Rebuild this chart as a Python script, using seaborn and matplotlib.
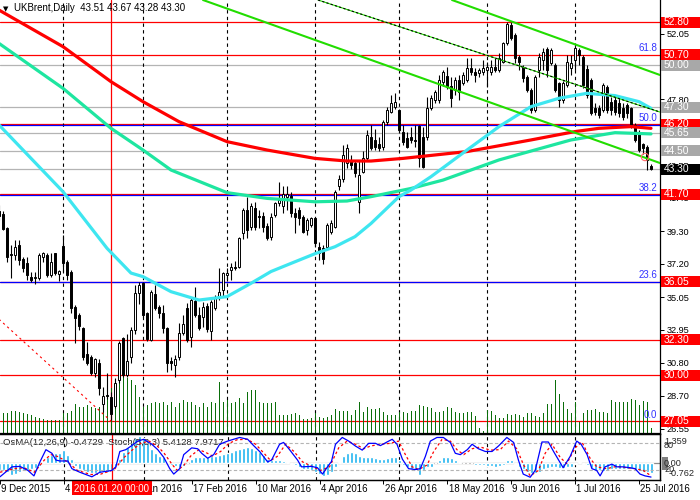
import numpy as np
import pandas as pd
import matplotlib
matplotlib.use("Agg")
import matplotlib.pyplot as plt
import seaborn as sns
from matplotlib.patches import Rectangle
from matplotlib.transforms import blended_transform_factory

# ---------------- data ----------------
opens = [40.60, 40.42, 39.49, 37.85, 37.77, 38.42, 37.49, 37.23, 36.37, 36.30,
         36.31, 37.66, 37.77, 36.48, 37.88, 36.55, 38.35, 37.34, 36.70, 34.44,
         33.90, 33.04, 31.38, 31.21, 30.14, 30.78, 28.16, 28.74, 28.60, 28.00,
         29.70, 32.40, 30.00, 31.20, 32.93, 35.29, 35.94, 34.05, 32.28, 35.25,
         34.39, 34.00, 33.04, 30.90, 30.67, 31.16, 32.71, 34.33, 32.50, 34.80,
         33.90, 33.79, 34.48, 32.88, 34.33, 34.97, 35.50, 36.50, 36.80, 37.00,
         37.00, 39.20, 40.67, 39.60, 40.78, 40.30, 40.30, 39.66, 38.95, 40.35,
         41.10, 40.90, 41.50, 41.57, 40.50, 40.66, 40.24, 39.38, 39.70, 40.13,
         38.30, 38.20, 38.30, 39.27, 39.60, 42.20, 42.70, 43.70, 43.90, 43.70,
         41.20, 43.14, 44.00, 45.40, 45.20, 44.90, 44.76, 46.37, 47.00, 47.30,
         47.12, 45.70, 45.30, 45.40, 45.20, 46.09, 45.40, 45.40, 47.23, 47.77,
         47.77, 48.95, 49.30, 48.70, 48.41, 49.06, 48.84, 49.06, 49.81, 49.60,
         49.50, 49.60, 49.70, 49.60, 49.90, 49.70, 50.24, 51.42, 52.60, 51.96,
         50.56, 49.92, 49.27, 48.41, 47.12, 49.70, 50.35, 51.04, 50.13, 50.02,
         48.84, 47.77, 48.73, 49.81, 50.35, 50.99, 50.56, 49.80, 49.06, 47.23,
         47.23, 47.12, 48.58, 47.66, 47.77, 47.55, 47.23, 47.45, 47.23, 46.15,
         45.70, 44.90, 44.76, 43.51]
highs = [41.00, 40.60, 39.55, 38.40, 38.74, 38.74, 37.66, 37.66, 36.70, 36.70,
         37.88, 37.99, 37.88, 37.88, 37.90, 36.80, 39.06, 37.45, 36.80, 34.55,
         34.00, 33.15, 32.18, 31.30, 31.10, 31.04, 29.28, 30.14, 28.90, 29.80,
         32.20, 32.50, 32.70, 33.10, 35.80, 36.00, 36.05, 34.10, 35.50, 35.83,
         34.54, 34.54, 33.14, 31.20, 31.30, 33.36, 33.90, 34.65, 34.97, 35.70,
         34.43, 34.76, 34.65, 34.86, 35.18, 36.90, 36.70, 36.90, 37.25, 37.40,
         38.95, 40.80, 41.53, 41.10, 41.20, 40.66, 40.56, 39.80, 40.45, 41.20,
         42.50, 42.20, 42.20, 41.85, 40.78, 40.88, 40.35, 40.13, 40.24, 40.24,
         38.63, 38.40, 39.80, 40.00, 41.96, 42.90, 44.86, 44.90, 44.20, 43.90,
         43.80, 44.50, 45.83, 46.15, 45.90, 45.40, 46.50, 47.33, 48.09, 48.20,
         47.20, 46.15, 45.70, 46.05, 46.15, 46.15, 46.05, 47.98, 48.09, 48.40,
         49.38, 49.70, 49.90, 49.27, 49.23, 49.38, 49.60, 50.45, 50.45, 49.81,
         49.81, 50.35, 50.24, 50.35, 50.45, 50.78, 51.53, 52.82, 52.82, 52.07,
         50.67, 50.02, 49.38, 48.52, 49.38, 50.78, 51.10, 51.20, 51.10, 50.13,
         48.95, 49.00, 50.67, 50.67, 51.25, 51.10, 50.67, 50.00, 49.16, 47.55,
         47.45, 48.84, 48.73, 47.98, 47.98, 47.88, 47.55, 47.55, 47.34, 46.26,
         45.83, 45.00, 44.87, 43.67]
lows = [40.00, 39.35, 37.34, 36.30, 37.45, 37.13, 36.70, 36.16, 36.05, 35.90,
        36.16, 37.34, 36.37, 36.33, 36.48, 36.10, 36.70, 36.16, 34.00, 32.07,
        32.93, 31.00, 30.67, 30.00, 29.90, 28.74, 27.66, 28.50, 27.10, 27.90,
        29.50, 29.90, 29.90, 30.80, 32.70, 34.60, 33.79, 32.24, 32.20, 34.20,
        33.68, 32.71, 30.24, 30.35, 29.90, 30.99, 32.60, 32.17, 31.85, 33.79,
        32.93, 33.14, 32.82, 32.28, 34.20, 34.86, 35.10, 36.10, 36.15, 36.80,
        36.90, 38.80, 38.84, 39.40, 39.40, 39.50, 39.27, 38.73, 38.73, 40.20,
        40.90, 40.45, 40.70, 40.24, 39.16, 39.70, 39.16, 39.06, 39.60, 38.30,
        37.44, 37.20, 38.20, 39.10, 39.50, 41.96, 42.50, 43.40, 43.30, 42.80,
        40.45, 43.03, 43.90, 44.54, 44.54, 44.50, 44.54, 46.15, 46.90, 47.20,
        45.70, 44.87, 44.65, 44.97, 44.76, 43.47, 43.36, 45.20, 47.12, 47.55,
        47.55, 48.70, 48.50, 47.34, 48.09, 47.77, 48.73, 48.95, 49.38, 48.95,
        49.27, 49.38, 48.63, 49.38, 49.60, 49.60, 50.13, 51.31, 51.64, 50.13,
        49.70, 48.95, 48.30, 46.90, 47.00, 49.27, 49.70, 49.27, 50.02, 48.30,
        47.34, 47.55, 48.63, 49.38, 49.70, 50.02, 48.52, 47.90, 46.80, 46.80,
        46.58, 47.00, 46.90, 46.80, 46.80, 46.70, 46.48, 46.60, 45.94, 45.08,
        44.43, 44.30, 43.25, 43.28]
closes = [40.30, 39.43, 37.62, 37.75, 38.31, 37.45, 36.91, 36.48, 36.16, 36.33,
          37.77, 37.92, 36.48, 37.34, 36.63, 36.72, 37.28, 36.48, 34.33, 33.69,
          33.19, 31.21, 30.78, 30.14, 31.04, 29.17, 28.67, 28.70, 27.50, 29.50,
          32.10, 30.00, 30.90, 32.93, 35.29, 35.83, 33.90, 32.33, 35.40, 34.33,
          34.05, 33.04, 30.78, 30.80, 31.04, 32.71, 33.31, 32.28, 34.86, 33.90,
          33.04, 34.43, 32.97, 34.76, 35.08, 35.40, 36.60, 36.60, 37.00, 36.95,
          38.84, 40.70, 39.38, 40.90, 39.59, 40.25, 39.59, 38.84, 40.24, 41.10,
          41.30, 41.70, 41.70, 40.45, 40.24, 40.13, 39.27, 40.02, 40.13, 38.52,
          37.87, 37.50, 39.70, 39.85, 41.85, 42.70, 44.20, 44.70, 43.60, 43.03,
          42.90, 44.00, 45.50, 44.65, 44.76, 44.65, 46.37, 47.12, 47.55, 47.66,
          45.83, 45.08, 44.76, 45.20, 45.15, 44.00, 43.47, 47.23, 47.88, 48.30,
          49.06, 49.60, 48.63, 47.88, 49.06, 48.30, 49.38, 49.81, 49.60, 49.40,
          49.70, 49.81, 49.90, 49.90, 49.70, 50.45, 51.42, 52.70, 51.75, 50.45,
          50.24, 49.16, 48.41, 47.12, 49.27, 50.56, 50.88, 49.70, 50.99, 48.41,
          47.77, 48.84, 50.24, 50.13, 51.10, 50.67, 48.73, 48.10, 46.90, 47.00,
          46.80, 48.73, 47.12, 47.12, 47.00, 46.90, 46.70, 46.90, 46.15, 45.20,
          44.54, 44.65, 43.90, 43.30]
tick_volume = [19, 19.3, 20, 21.7, 21.7, 21, 19.3, 18.7, 17.7, 16,
               14.3, 13.3, 12.7, 12.7, 12.7, 12.7, 19.3, 20, 22, 28.7,
               26, 25.3, 27.7, 26, 24.3, 26, 29.3, 39.3, 45, 49.3,
               56, 57.7, 55, 52.7, 47.7, 36, 26, 27.7, 29.3, 31,
               29.3, 31, 27.7, 31, 26, 29.3, 32.7, 31, 31, 27.7,
               26, 29.3, 26, 31, 29.3, 51, 31, 32.7, 29.3, 31,
               34.3, 29.3, 41, 42.7, 42.7, 31, 29.3, 29.3, 30, 31,
               17.7, 17.7, 17.7, 18.7, 19.3, 17.7, 13.3, 13.3, 14.3, 19.3,
               16, 14.3, 16, 17.7, 23.3, 21.7, 21.7, 22, 17.7, 22.7,
               30.3, 21, 25.3, 23.3, 23.3, 24.3, 21, 17.7, 17.7, 17.7,
               21, 21, 19.3, 22, 22, 27.7, 26.7, 26, 24.3, 21,
               21, 22, 25.3, 24.3, 21, 19.3, 19.3, 21, 21, 17,
               4.3, 2, 22.7, 22, 17.7, 15, 15, 18.3, 17.7, 18.3,
               17.7, 16, 19.3, 19.3, 16.7, 15.3, 20, 28.7, 28.7, 52.7,
               38.7, 30.3, 23.3, 19.3, 30.3, 11, 19.3, 22.7, 22.7, 23.3,
               21, 21, 20, 32.7, 31, 30.3, 30.3, 31, 33.3, 32.7,
               27.7, 31.7, 30.3, 4.3]
osma = [-0.31, -0.31, -0.39, -0.55, -0.50, -0.39, -0.31, -0.31, -0.28, -0.24,
        -0.13, 0.08, 0.28, 0.39, 0.47, 0.50, 0.63, 0.39, 0.19, -0.13,
        -0.28, -0.31, -0.39, -0.47, -0.44, -0.44, -0.39, -0.39, -0.31, -0.16,
        0.19, 0.55, 0.75, 1.02, 1.18, 1.26, 1.18, 0.94, 0.66, 0.50,
        0.35, 0.28, 0.08, -0.08, -0.13, -0.16, -0.13, 0.0, 0.19, 0.28,
        0.28, 0.28, 0.28, 0.35, 0.35, 0.39, 0.44, 0.50, 0.55, 0.60,
        0.66, 0.72, 0.75, 0.72, 0.63, 0.55, 0.39, 0.19, 0.13, 0.13,
        0.13, 0.09, 0.08, -0.03, -0.08, -0.16, -0.25, -0.28, -0.31, -0.39,
        -0.50, -0.60, -0.55, -0.39, -0.16, 0.08, 0.35, 0.47, 0.55, 0.50,
        0.35, 0.31, 0.31, 0.28, 0.24, 0.19, 0.19, 0.24, 0.28, 0.28,
        0.16, -0.08, -0.16, -0.28, -0.31, -0.55, -0.31, -0.19, -0.16, 0.0,
        0.16, 0.28, 0.28, 0.24, 0.16, 0.08, 0.0, 0.0, 0.0, -0.06,
        -0.09, -0.09, -0.13, -0.13, -0.16, -0.13, -0.08, 0.13, 0.13, -0.03,
        -0.16, -0.28, -0.39, -0.47, -0.47, -0.39, -0.28, -0.24, -0.16, -0.19,
        -0.24, -0.24, -0.19, -0.16, -0.03, 0.06, -0.03, -0.08, -0.24, -0.35,
        -0.31, -0.35, -0.31, -0.28, -0.25, -0.25, -0.25, -0.25, -0.28, -0.31,
        -0.35, -0.39, -0.39, -0.47]

# moving averages (bar index, price)
ma_slow_x = [0, 8, 16, 28, 36, 45, 57, 67, 79, 87, 93, 101, 117, 133, 144, 150, 158, 163]
ma_slow_y = [53.57, 52.39, 51.21, 48.95, 47.66, 46.37, 45.08, 44.54, 44.00, 43.83, 43.83,
             44.00, 44.44, 45.19, 45.73, 45.94, 46.05, 45.94]
ma_mid_x = [0, 16, 28, 36, 43, 57, 67, 79, 87, 93, 103, 111, 125, 143, 154, 163]
ma_mid_y = [51.42, 48.52, 45.94, 44.54, 43.25, 41.79, 41.42, 41.20, 41.25, 41.53, 42.06,
            42.60, 43.90, 45.19, 45.66, 45.58]
ma_fast_x = [0, 16, 27, 33, 36, 43, 50, 57, 63, 68, 72, 79, 84, 89, 93, 100, 103, 108,
             117, 125, 133, 140, 147, 154, 160, 163]
ma_fast_y = [46.16, 41.85, 38.20, 36.60, 36.37, 35.40, 34.86, 35.08, 35.94, 36.70, 37.12,
             37.85, 38.30, 38.95, 39.80, 41.53, 41.96, 42.82, 44.54, 46.05, 47.34, 47.88,
             48.20, 48.05, 47.66, 47.23]

# stochastic main / signal (bar index, value)
stoch_k_x = [0, 3, 5, 7, 8.5, 10, 11.5, 13, 14, 15, 17, 18, 20, 23, 25, 28, 29, 30, 31.5, 33,
             34.5, 36, 38, 39.5, 41, 42.5, 43.5, 45, 46, 48, 49.5, 50.5, 52, 53.5, 55, 57,
             58.5, 60, 62, 63.5, 65, 67, 68, 70, 71, 72.5, 74.5, 75.5, 78, 79.5, 80.75, 82,
             83, 84, 85.7, 87.3, 89, 90.7, 92.3, 94, 95.25, 96.9, 98.2, 99.4, 100.75, 102.3,
             104, 105.25, 106.5, 107.75, 109.4, 111, 112.75, 114, 115.25, 117, 118.2, 119.8,
             121.5, 123.2, 124.8, 126.9, 128.6, 129.8, 131, 132.75, 134, 135.7, 137.3, 138.6,
             141, 142.75, 144.4, 145.5, 147, 148.2, 149.4, 150.25, 151.5, 153.2, 154.5, 156,
             157.75, 159, 160.25, 161.5, 163]
stoch_k_y = [6, 28, 29, 20, 8, 39, 66, 58, 43, 41, 41, 24, 16, 6, 16, 20, 28, 62, 66, 75,
             85, 89, 78, 66, 49, 24, 12, 24, 55, 70, 68, 58, 47, 55, 78, 85,
             89, 93, 89, 75, 62, 39, 43, 78, 82, 66, 43, 28, 29, 26, 12, 28,
             40, 78, 93, 85, 74, 65, 80, 80, 75, 83, 89, 78, 45, 24,
             22, 24, 51, 85, 93, 93, 82, 58, 55, 66, 78, 68,
             62, 62, 74, 93, 82, 43, 12, 5, 20, 83, 83, 62,
             26, 51, 85, 78, 55, 24, 20, 8, 28, 34, 28, 28,
             26, 24, 12, 8, 5.4]
stoch_d_x = [0, 3.6, 6, 8.6, 11.1, 12.75, 14.4, 16.9, 19.4, 22.75, 25.25, 28.6, 31.1, 33.2,
             35.25, 37.3, 39.4, 41.1, 43.2, 44.4, 46.1, 47.75, 49.8, 51.5, 53.2, 55.25, 57.3,
             59.4, 61.9, 64, 66.1, 67.75, 69.4, 71.5, 73.6, 75.75, 78.1, 80.25, 82.5, 84.8,
             86.9, 89, 91.1, 92.75, 95.25, 97.75, 99.8, 101.5, 103.2, 104.8, 106.9, 108.6,
             110.7, 112.75, 114.4, 116.1, 118.2, 120.25, 122.75, 125.25, 127.3, 129.4, 131.1,
             132.75, 134.8, 136.5, 138.2, 140.25, 141.9, 144, 145.7, 147.75, 149.4, 151.9,
             154.4, 156.9, 159, 161.1, 163]
stoch_d_y = [16, 24, 26, 16, 43, 55, 51, 39, 20, 11, 12, 22, 49, 66,
             80, 85, 74, 58, 32, 20, 32, 52, 66, 60, 52, 62, 80,
             88, 89, 78, 58, 42, 51, 78, 62, 39, 29, 20, 28, 70,
             85, 78, 68, 74, 78, 80, 85, 55, 28, 22, 32, 62,
             89, 85, 66, 55, 68, 72, 65, 66, 85, 68, 32,
             8, 20, 58, 78, 49, 35, 70, 83, 47, 28, 24,
             29, 26, 24, 20, 8]

# drawn objects
red_levels = [52.80, 50.70, 46.20, 41.70, 36.05, 32.30, 30.00, 27.05]
gray_levels = [50.00, 47.30, 45.65, 44.50, 43.30]
fib_pct = ["0.0", "23.6", "38.2", "50.0", "61.8"]
fib_price = [27.05, 36.08, 41.67, 46.19, 50.70]
fib_line_shown = [False, True, True, True, False]
channel_a = ([113.25, 165.25], [54.22, 49.38])
channel_b = ([79.75, 165.25], [54.22, 46.99])
channel_c = ([51.0, 165.25], [54.22, 43.70])
fib_trend = ([-100.0, 28.0], [57.09, 27.05])
price_tags = [52.80, 50.70, 50.00, 47.30, 46.20, 45.65, 44.50, 43.30, 41.70, 36.05, 32.30, 30.00, 27.05]
price_tag_kind = ["r", "r", "g", "g", "r", "g", "g", "k", "r", "r", "r", "r", "r"]
axis_prices = [26.55, 28.70, 30.80, 32.95, 35.05, 37.20, 39.30, 41.45, 43.55, 45.65, 47.80, 49.90, 52.05]
axis_hidden = [45.65, 49.90]
month_starts = [16, 36, 57, 79, 100, 122, 144]
date_tick_idx = [0, 16, 32, 48, 64, 80, 96, 112, 128, 144, 160]
date_tick_text = ["9 Dec 2015", "4 Jan 2016", "26 Jan 2016", "17 Feb 2016", "10 Mar 2016",
                  "4 Apr 2016", "26 Apr 2016", "18 May 2016", "9 Jun 2016", "1 Jul 2016",
                  "25 Jul 2016"]
cursor_idx = 28
cursor_text = "2016.01.20 00:00"
marker_pt = (161.5, 44.09)

# ---------------- figure ----------------
sns.set_theme(style="white")
plt.rcParams["font.family"] = ["Liberation Sans", "DejaVu Sans"]
FS = 6.6
W, H = 700, 500
fig = plt.figure(figsize=(7, 5), dpi=100)
fig.patch.set_facecolor("white")


def rect(x0, y0, x1, y1):
    return [x0 / W, 1 - y1 / H, (x1 - x0) / W, (y1 - y0) / H]


ax = fig.add_axes(rect(0, 0, 660, 432.7))
sub = fig.add_axes(rect(0, 434.3, 660, 479.5))
XL = (0.25, 165.25)
YL = (26.30, 54.22)
PX = (YL[1] - YL[0]) / 432.7   # price per pixel

df = pd.DataFrame({"o": opens, "h": highs, "l": lows, "c": closes, "v": tick_volume, "osma": osma})
df["x"] = np.arange(len(df))

ax.set_xlim(*XL)
ax.set_ylim(*YL)
for lv in red_levels:
    ax.axhline(lv, color="#ff0000", lw=0.9, zorder=1)
for lv in gray_levels:
    ax.axhline(lv, color="#b4b4b4", lw=0.9, zorder=1)
for lv, shown in zip(fib_price, fib_line_shown):
    if shown:
        ax.axhline(lv - 0.05, color="#0000ff", lw=0.9, zorder=1.1)
for m in month_starts:
    ax.axvline(m, color="black", lw=0.8, ls=(0, (3, 3)), zorder=1)
    sub.axvline(m, color="black", lw=0.8, ls=(0, (3, 3)), zorder=1)
ax.axvline(cursor_idx, color="#ff0000", lw=0.9, zorder=1.2)
sub.axvline(cursor_idx, color="#ff0000", lw=0.9, zorder=5)

# volume (1 px bars)
ax.vlines(df["x"], YL[0], YL[0] + df["v"] * PX, color="#0a6e0a", lw=0.72, zorder=2,
          antialiased=False)

# candles
ax.vlines(df["x"], df["l"], df["h"], color="black", lw=0.8, zorder=3)
up = df["c"] >= df["o"]
body = np.maximum((df["c"] - df["o"]).abs(), 0.05)
bot = np.minimum(df["o"], df["c"])
ax.bar(df["x"][up], body[up], bottom=bot[up], width=0.72, facecolor="white",
       edgecolor="black", linewidth=0.7, zorder=4)
ax.bar(df["x"][~up], body[~up], bottom=bot[~up], width=0.72, facecolor="black",
       edgecolor="black", linewidth=0.7, zorder=4)

# moving averages
sns.lineplot(x=ma_slow_x, y=ma_slow_y, ax=ax, color="#ff0000", linewidth=2.3, estimator=None, zorder=5)
sns.lineplot(x=ma_mid_x, y=ma_mid_y, ax=ax, color="#1ee6a0", linewidth=2.3, estimator=None, zorder=5)
sns.lineplot(x=ma_fast_x, y=ma_fast_y, ax=ax, color="#3ee6f0", linewidth=2.3, estimator=None, zorder=5)

# channel / trend lines
for ch in (channel_a, channel_c):
    sns.lineplot(x=ch[0], y=ch[1], ax=ax, color="#22dd00", linewidth=1.5, estimator=None, zorder=6)
sns.lineplot(x=channel_b[0], y=channel_b[1], ax=ax, color="#22dd00", linewidth=0.8, estimator=None, zorder=6)
ax.plot(channel_b[0], channel_b[1], color="black", lw=0.8, ls=(0, (2, 2)), zorder=6.1)
ax.plot(fib_trend[0], fib_trend[1], color="#ff0000", lw=0.8, ls=(0, (2, 3)), zorder=6)
ax.scatter([marker_pt[0]], [marker_pt[1]], s=28, facecolor="none", edgecolor="#ff6a6a", lw=0.8, zorder=7)

ax.set_xlim(*XL)
ax.set_ylim(*YL)
ax.set_xlabel("")
ax.set_ylabel("")
ax.set_xticks([])
ax.set_yticks(axis_prices)
ax.set_yticklabels(["" if p in axis_hidden else f"{p:.2f}" for p in axis_prices])
ax.yaxis.tick_right()
ax.tick_params(axis="y", right=True, left=False, length=3, width=0.7, pad=2,
               labelsize=FS, colors="black", direction="out")
for s in ("left", "top"):
    ax.spines[s].set_visible(False)
for s in ("right", "bottom"):
    ax.spines[s].set_color("black")
    ax.spines[s].set_linewidth(0.9)

# price tags
ytr = blended_transform_factory(ax.transAxes, ax.transData)
tag_col = {"r": "#ff0000", "g": "#a8a8a8", "k": "#000000"}
for p, k in zip(price_tags, price_tag_kind):
    ax.add_patch(Rectangle((661 / 660, p - 5.5 * PX), 40 / 660, 11 * PX, transform=ytr,
                           facecolor=tag_col[k], edgecolor="none", clip_on=False, zorder=20))
    ax.text(664 / 660, p, f"{p:.2f}", transform=ytr, color="white", fontsize=FS + 0.8,
            va="center", ha="left", zorder=21, clip_on=False)
for lab, p in zip(fib_pct, fib_price):
    ax.text(657 / 660, p + 6.5 * PX, lab, transform=ytr, color="#3333ff", fontsize=FS + 0.4,
            va="center", ha="right", zorder=8)

# title
fig.text(3 / W, 1 - 9 / H, "\u25bc", fontsize=5, color="black", va="center", ha="left",
         family=["DejaVu Sans"])
fig.text(14 / W, 1 - 8 / H, "UKBrent,Daily  43.51 43.67 43.28 43.30", fontsize=FS + 0.4,
         color="black", va="center", ha="left")

# ---------------- indicator window ----------------
sub.set_xlim(*XL)
sub.set_ylim(-0.762, 1.359)
sub.bar(df["x"], df["osma"], width=0.75, color="#1eb4f0", zorder=2)
sub.axhline(0, color="#8c8c8c", lw=0.9, zorder=1.5)
st = sub.twinx()
st.set_xlim(*XL)
st.set_ylim(0, 100)
st.axhline(80, color="#b4b4b4", lw=0.8, ls=(0, (3, 2)), zorder=1)
st.axhline(20, color="#b4b4b4", lw=0.8, ls=(0, (3, 2)), zorder=1)
sns.lineplot(x=stoch_d_x, y=stoch_d_y, ax=st, color="#ff0000", linewidth=0.9, estimator=None,
             linestyle=(0, (2, 2)), zorder=3)
sns.lineplot(x=stoch_k_x, y=stoch_k_y, ax=st, color="#0000ff", linewidth=0.9, estimator=None, zorder=4)
st.set_xlim(*XL)
st.set_ylim(0, 100)
st.set_yticks([])
st.set_ylabel("")
sub.set_yticks([])
sub.set_ylabel("")
for a in (sub, st):
    a.spines["left"].set_visible(False)
    for s in ("right", "bottom", "top"):
        a.spines[s].set_color("black")
        a.spines[s].set_linewidth(0.9)
sub.set_xticks(date_tick_idx)
sub.set_xticklabels([""] * len(date_tick_idx))
sub.tick_params(axis="x", bottom=True, length=3, width=0.7, direction="out", colors="black")
st.tick_params(axis="x", bottom=False, top=False)

sub.text(3 / 660, 0.82, "OsMA(12,26,9) -0.4729  Stoch(5,3,3) 5.4128 7.9717",
         transform=sub.transAxes, fontsize=FS + 0.2, color="#202020", va="center", ha="left", zorder=10)

# indicator scale labels
fig.text(664 / W, 1 - 441 / H, "1.359", fontsize=FS, va="center", ha="left")
fig.text(664 / W, 1 - 446 / H, "80", fontsize=FS, va="center", ha="left")
fig.patches.append(Rectangle((662 / W, 1 - 470 / H), 6 / W, 13 / H, transform=fig.transFigure,
                             facecolor="#808080", edgecolor="none"))
fig.text(664 / W, 1 - 463 / H, "0.00", fontsize=FS, va="center", ha="left")
fig.text(664 / W, 1 - 470 / H, "20", fontsize=FS, va="center", ha="left")
fig.text(669 / W, 1 - 473 / H, "-0.762", fontsize=FS, va="center", ha="left")

# date labels
xtr = blended_transform_factory(sub.transData, fig.transFigure)
for i, t in zip(date_tick_idx, date_tick_text):
    sub.text(i + 0.3, 1 - 489 / H, t, transform=xtr, fontsize=FS + 0.3, va="center",
             ha="left", clip_on=False, color="black")
sub.add_patch(Rectangle((18.0, 1 - 495 / H), 20.0, 14 / H, transform=xtr, facecolor="#ff0000",
                        edgecolor="none", clip_on=False, zorder=20))
sub.text(cursor_idx, 1 - 488.5 / H, cursor_text, transform=xtr, fontsize=FS + 0.3, va="center",
         ha="center", color="white", clip_on=False, zorder=21)

fig.savefig("out.png", dpi=100, facecolor="white")
